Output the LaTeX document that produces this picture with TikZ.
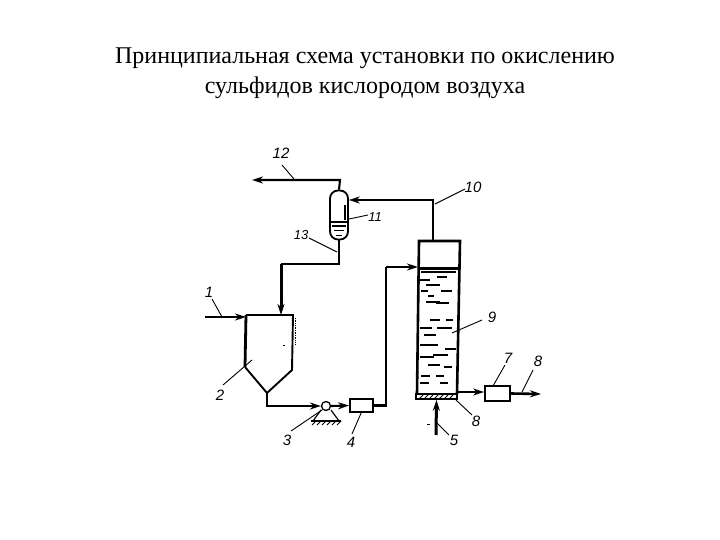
\documentclass[tikz,border=0pt]{standalone}
\usepackage{fontspec}
\setmainfont{Liberation Serif}
\newfontfamily\lblfont{Liberation Sans}
\usetikzlibrary{arrows.meta}
\tikzset{
 pipe/.style={line width=2.1pt,line join=miter},
 thick pipe/.style={line width=3pt},
 wall/.style={line width=2.6pt,line join=miter},
 flow/.style={-{Stealth[length=11pt,width=7pt]}},
 leader/.style={line width=.9pt},
 num/.style={font=\lblfont\itshape\fontsize{15}{15}\selectfont,inner sep=0pt},
 smallnum/.style={font=\lblfont\itshape\fontsize{13}{13}\selectfont,inner sep=0pt},
 title/.style={font=\fontsize{24}{30}\selectfont,align=center,inner sep=0pt},
 eqp/.style={draw,fill=white,inner sep=0pt},
 dashmark/.style={line width=1.2pt},
}
\begin{document}
\begin{tikzpicture}[x=1pt,y=-1pt]
\useasboundingbox (0,0) rectangle (720,540);
\fill[white] (0,0) rectangle (720,540);
\node[title] (t) at (365,73.5) {Принципиальная схема установки по окислению\\сульфидов кислородом воздуха};

% hopper 2
\coordinate (hTL) at (246,315);\coordinate (hTR) at (293,315);
\coordinate (hSL) at (245,367);\coordinate (hSR) at (292,370);
\coordinate (hA) at (267,393);
\draw[wall,line width=1.9pt] (hTL) -- (hTR) -- (hSR) -- (hA) -- (hSL);
\draw[wall,line width=2.8pt] (hSL) -- (hTL);
\draw[line width=.7pt,densely dotted] (295,318) -- (295,344);
\fill (283,345) rectangle (285,346);

% column 9
\coordinate (cTL) at (419,241);\coordinate (cTR) at (460,241);
\coordinate (cBL) at (417,394);\coordinate (cBR) at (457,394);
\draw[wall] (cBL) -- (cTL) -- (cTR) -- (cBR);
\draw[line width=2.8pt] (418,268.5) -- (459,268.5);
\draw[line width=1.2pt] (421,272) -- (456,272);
\node[draw,line width=1.6pt,fill=white,minimum width=41pt,minimum height=5pt,inner sep=0pt] (grid) at (436.5,396.5) {};
\foreach \x in {419,424,...,449}{\draw[line width=1pt] (\x,399) -- (\x+5,394);}
\foreach \a/\b/\c in {420/430/280,437/447/277,426/440/285,421/428/291,441/452/291,428/434/296,436/449/303,
 430/440/320,446/453/320,420/432/328,437/452/328,424/438/345,445/456/349,420/434/357,433/448/355,
 428/440/365,444/452/367,421/430/376,436/444/376,420/429/383,440/448/383,426/440/302,420/428/345,424/436/335}
 {\draw[dashmark] (\a,\c) -- (\b,\c);}

% separator 11
\node[draw,line width=1.8pt,rounded corners=8pt,fill=white,minimum width=18pt,minimum height=49pt,inner sep=0pt] (sep) at (339,215) {};
\draw[line width=1.4pt] (331,222) -- (347,222);
\draw[line width=1.2pt] (332,226) -- (346,226);
\draw[line width=1pt] (334,231) -- (344,231);
\draw[line width=1pt] (336,235) -- (342,235);
\draw[line width=1.8pt] (345,205) -- (345,220);

% equipment
\node[eqp,line width=1.8pt,minimum width=23pt,minimum height=13pt] (f4) at (361.5,405.5) {};
\node[eqp,line width=1.8pt,minimum width=25pt,minimum height=15pt] (f7) at (497.5,393.5) {};
\node[draw,line width=1.3pt,circle,minimum size=9pt,inner sep=0pt,fill=white] (pump) at (326,406) {};

% pump support
\coordinate (gL) at (311,421);\coordinate (gR) at (341,421);
\draw[line width=1.2pt] (321,410) -- (313,421) (331,410) -- (339,421);
\draw[line width=1.5pt] (gL) -- (gR);
\foreach \x in {312,317,...,337}{\draw[line width=.9pt] (\x,425) -- (\x+4,421);}

% pipes
\coordinate (p12) at (252,180);
\coordinate (c1) at (340,180);
\draw[pipe,flow] (sep.north) -- (c1) -- (p12);
\coordinate (c2) at (433,200);
\draw[pipe,flow] (433,241) -- (c2) -- (sep.east |- c2);
\coordinate (c3) at (339,264);\coordinate (c4) at (281,264);
\draw[pipe] (sep.south) -- (c3) -- (c4);
\draw[thick pipe,flow] (c4) -- (hTL -| c4);
\coordinate (in1) at (205,317);
\draw[pipe,flow] (in1) -- (hTL |- in1);
\coordinate (c5) at (267,406);
\draw[pipe,flow] (hA) -- (c5) -- (pump.west);
\draw[pipe,flow] (pump.east) -- (f4.west);
\coordinate (c6) at (386,405.5);\coordinate (c7) at (386,267);
\draw[pipe,line width=2.4pt] (f4.east) -- (c6) -- (c7);
\draw[pipe,flow] (c7) -- (418,267);
\coordinate (in5) at (436,435);
\draw[thick pipe,flow] (in5) -- (grid.south);
\draw[pipe,flow] (457,392) -- (f7.west |- 0,392);
\coordinate (out8) at (541,394);
\draw[pipe,line width=2.6pt,flow] (f7.east) -- (out8);

% labels
\node[num] (n1) at (209,292) {1};
\node[num] (n2) at (220,395) {2};
\node[num] (n3) at (287,440) {3};
\node[num] (n4) at (351,442) {4};
\node[num] (n5) at (454,440) {5};
\node[num] (n6) at (476,421) {8};
\node[num] (n7) at (508,358) {7};
\node[num] (n8) at (538,361) {8};
\node[num] (n9) at (492,317) {9};
\node[num] (n10) at (473,187) {10};
\node[smallnum] (n11) at (375,217) {11};
\node[num] (n12) at (281,153) {12};
\node[smallnum] (n13) at (301,235) {13};
\draw[leader] (n1) ++(3,7) -- (222,317);
\draw[leader] (n2) ++(3,-10) -- (252,360);
\draw[leader] (n3) ++(4,-9) -- (322,410);
\draw[leader] (n4) ++(1,-8) -- (362,411);
\draw[leader] (n5) ++(-5,-5) -- (437,423);
\draw[leader] (n6) ++(-4,-6) -- (456,400);
\draw[leader] (n7) ++(-3,7) -- (493,386);
\draw[leader] (n8) ++(-5,9) -- (522,392);
\draw[leader] (n9) ++(-10,3) -- (452,333);
\draw[leader] (n10) ++(-8,2) -- (435,204);
\draw[leader] (n11) ++(-7,-2) -- (349,219);
\draw[leader] (n12) ++(1,12) -- (294,179);
\draw[leader] (n13) ++(8,3) -- (337,252);
\draw[line width=.8pt] (427,424) -- (430,424);
\end{tikzpicture}
\end{document}
